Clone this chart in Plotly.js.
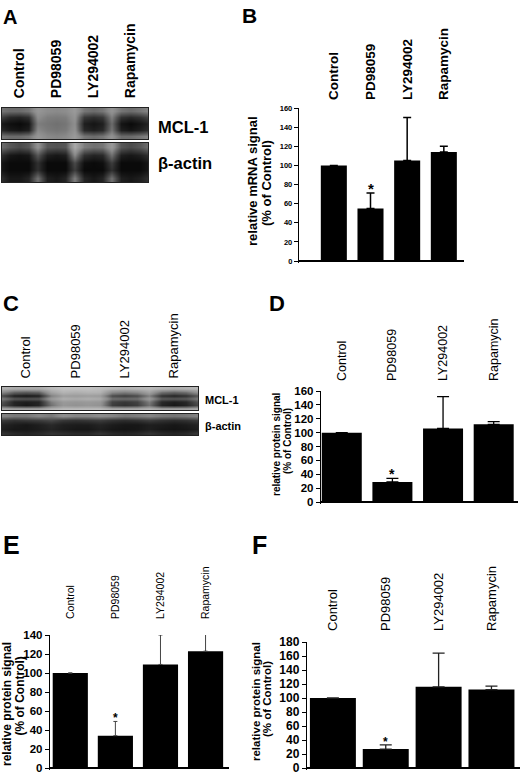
<!DOCTYPE html>
<html><head><meta charset="utf-8">
<script src="https://cdn.plot.ly/plotly-3.0.1.min.js"></script>
<style>html,body{margin:0;padding:0;background:#fff}#chart{width:520px;height:774px}</style>
</head><body><div id="chart"></div>
<script>
// ---------------- DATA ----------------
const treatments = ['Control', 'PD98059', 'LY294002', 'Rapamycin'];

// Panel B: relative MCL-1 mRNA signal (% of Control); bar heights and upper error-bar ends
const mrnaB = [100, 55, 105, 114];
const mrnaBTop = [100, 71, 150, 120];
// Panel D: relative protein signal
const proteinD = [100, 29, 106, 112];
const proteinDTop = [100, 34, 152, 116];
// Panel E: relative protein signal
const proteinE = [100, 34, 109, 123];
const proteinETop = [100, 49, 140, 145];
// Panel F: relative protein signal
const proteinF = [100, 27, 116, 112];
const proteinFTop = [100, 33, 164, 117];
// significance marks (*)
const significant = [false, true, false, false];

// Blot band darkness (0 = light background, 1 = black); rows bottom -> top,
// columns: gap, Control x3, gap, PD98059 x3, gap, LY294002 x3, gap, Rapamycin x3, gap
const blotA_MCL1 = [
  [0.58,0.62,0.62,0.58,0.42,0.50,0.52,0.50,0.40,0.58,0.62,0.58,0.45,0.62,0.62,0.58,0.52],
  [0.88,0.94,0.96,0.92,0.50,0.56,0.58,0.56,0.45,0.88,0.92,0.88,0.58,0.92,0.96,0.92,0.85],
  [0.94,0.98,1.00,0.96,0.55,0.58,0.60,0.58,0.48,0.92,0.96,0.92,0.62,0.96,1.00,0.96,0.90],
  [0.78,0.88,0.90,0.85,0.48,0.55,0.56,0.55,0.44,0.82,0.86,0.82,0.54,0.84,0.88,0.84,0.76],
  [0.58,0.62,0.62,0.58,0.42,0.48,0.50,0.48,0.40,0.58,0.62,0.58,0.44,0.58,0.62,0.58,0.52]
];
const blotA_actin = [
  [0.85,0.95,0.95,0.90,0.60,0.92,0.95,0.90,0.55,0.90,0.95,0.90,0.60,0.92,0.95,0.92,0.85],
  [0.95,1.00,1.00,1.00,0.85,1.00,1.00,1.00,0.80,1.00,1.00,1.00,0.85,1.00,1.00,1.00,0.95],
  [0.95,1.00,1.00,1.00,0.85,1.00,1.00,1.00,0.75,0.98,1.00,0.98,0.80,1.00,1.00,1.00,0.95],
  [0.85,0.95,0.97,0.95,0.70,0.92,0.95,0.92,0.50,0.85,0.90,0.88,0.60,0.92,0.95,0.92,0.85],
  [0.60,0.70,0.75,0.70,0.45,0.70,0.72,0.70,0.30,0.55,0.60,0.58,0.40,0.70,0.75,0.70,0.60]
];
const blotC_MCL1 = [
  [0.30,0.35,0.35,0.35,0.25,0.20,0.20,0.20,0.20,0.30,0.30,0.30,0.25,0.35,0.35,0.35,0.30],
  [0.75,0.90,0.95,0.90,0.60,0.42,0.45,0.42,0.45,0.80,0.85,0.80,0.60,0.90,0.95,0.90,0.75],
  [0.70,0.90,0.92,0.90,0.55,0.40,0.42,0.40,0.42,0.78,0.82,0.78,0.55,0.88,0.92,0.88,0.70],
  [0.55,0.70,0.72,0.70,0.40,0.27,0.30,0.27,0.30,0.60,0.62,0.60,0.40,0.68,0.70,0.68,0.55],
  [0.75,0.92,0.95,0.92,0.55,0.38,0.40,0.38,0.40,0.75,0.80,0.75,0.55,0.85,0.90,0.85,0.70],
  [0.50,0.65,0.68,0.65,0.35,0.24,0.27,0.24,0.25,0.50,0.55,0.50,0.35,0.60,0.65,0.60,0.45],
  [0.25,0.30,0.30,0.30,0.20,0.15,0.15,0.15,0.18,0.22,0.25,0.22,0.20,0.25,0.28,0.25,0.22]
];
const blotC_actin = [
  [0.84,0.88,0.90,0.88,0.84,0.86,0.88,0.88,0.84,0.88,0.90,0.88,0.84,0.88,0.90,0.88,0.82],
  [0.92,0.95,0.95,0.93,0.90,0.93,0.95,0.95,0.92,0.95,0.96,0.95,0.92,0.95,0.96,0.95,0.92],
  [0.90,0.93,0.95,0.92,0.88,0.92,0.93,0.93,0.90,0.93,0.95,0.95,0.92,0.93,0.95,0.93,0.90],
  [0.80,0.84,0.82,0.80,0.76,0.82,0.84,0.82,0.80,0.84,0.86,0.84,0.80,0.84,0.86,0.84,0.80],
  [0.52,0.57,0.57,0.52,0.57,0.47,0.52,0.52,0.49,0.52,0.57,0.55,0.52,0.57,0.59,0.57,0.52]
];
const laneCenters = [2, 6, 10, 14];   // column index of each lane centre in the blot grids

// ---------------- LAYOUT HELPERS ----------------
const W = 520, H = 774;
const FONT = 'Liberation Sans, Arial, Helvetica, sans-serif';
const dx = (a, b) => [a / W, b / W];
const dy = (top, bottom) => [1 - bottom / H, 1 - top / H];
const BLOT_SCALE = [[0, '#dadada'], [0.5, '#8a8a8a'], [1, '#0a0a0a']];
const bold = (s) => ({family: FONT, size: s, color: '#000', weight: 'bold'});
const reg = (s) => ({family: FONT, size: s, color: '#000'});

function heat(z, n) {
  return {type: 'heatmap', z: z, xaxis: 'x' + n, yaxis: 'y' + n, colorscale: BLOT_SCALE,
    zmin: 0, zmax: 1, zsmooth: 'best', showscale: false, hoverinfo: 'skip'};
}
function bars(vals, tops, n, width, err) {
  return {type: 'bar', x: treatments, y: vals, xaxis: 'x' + n, yaxis: 'y' + n, width: width,
    marker: {color: '#000', line: {width: 0}}, hoverinfo: 'skip', showlegend: false,
    error_y: {type: 'data', symmetric: false, array: tops.map((t, i) => t - vals[i]),
      arrayminus: vals.map(() => 0), color: err.color, thickness: err.thickness, width: err.width}};
}
function blotX(domain, range, anchor, labels, font, standoff) {
  const ax = {domain: domain, range: range, anchor: anchor, showgrid: false, zeroline: false, ticks: '',
    showline: true, mirror: true, linecolor: '#222', linewidth: 1, fixedrange: true};
  if (labels) {
    Object.assign(ax, {side: 'top', tickmode: 'array', tickvals: laneCenters, ticktext: treatments,
      tickangle: -90, tickfont: font, ticklabelstandoff: standoff});
  } else { ax.showticklabels = false; }
  return ax;
}
function blotY(domain, rows, anchor) {
  return {domain: domain, range: [-0.5, rows - 0.5], anchor: anchor, showgrid: false, zeroline: false, ticks: '',
    showticklabels: false, showline: true, mirror: true, linecolor: '#222', linewidth: 1, fixedrange: true};
}
function barX(domain, range, anchor, font, standoff) {
  return {domain: domain, range: range, anchor: anchor, type: 'category', side: 'top', showgrid: false,
    showline: false, zeroline: false, ticks: '', tickangle: -90, tickfont: font, ticklabelstandoff: standoff,
    fixedrange: true};
}
// value axis: top pixel, pixel of the zero line, max value; a 2px pad below zero keeps the
// zero line (used as the x-axis line) inside the plotting area
function barY(topPx, zeroPx, max, font, anchor) {
  const pad = 2;
  const lo = -pad * max / (zeroPx - topPx);
  return {domain: dy(topPx, zeroPx + pad), range: [lo, max], tick0: 0, dtick: 20, anchor: anchor,
    showgrid: false, showline: true, linecolor: '#000', linewidth: 1.2, ticks: 'outside', ticklen: 4,
    tickwidth: 1, tickcolor: '#000', tickfont: font, zeroline: true, zerolinecolor: '#000',
    zerolinewidth: 1.3, ticklabeloverflow: 'allow', fixedrange: true};
}
function ann(text, xpx, ypx, size, isBold, extra) {
  return Object.assign({text: text, xref: 'paper', yref: 'paper', x: xpx / W, y: 1 - ypx / H,
    xanchor: 'left', yanchor: 'middle', showarrow: false,
    font: {family: FONT, size: size, color: '#000', weight: isBold ? 'bold' : 'normal'}}, extra || {});
}
function vtitle(text, xpx, ypx, size) {
  return ann(text, xpx, ypx, size, true, {textangle: -90, xanchor: 'center', yanchor: 'middle'});
}
function stars(tops, n, size, shift) {
  return treatments.map((t, i) => significant[i] ? {text: '*', xref: 'x' + n, yref: 'y' + n, x: t, y: tops[i],
    yanchor: 'middle', yshift: shift, showarrow: false,
    font: {family: FONT, size: size, color: '#000', weight: 'bold'}} : null).filter(Boolean);
}

// ---------------- FIGURE ----------------
const data = [
  heat(blotA_MCL1, ''), heat(blotA_actin, 2),
  bars(mrnaB, mrnaBTop, 3, 0.71, {color: '#000', thickness: 1.5, width: 4}),
  heat(blotC_MCL1, 4), heat(blotC_actin, 5),
  bars(proteinD, proteinDTop, 6, 0.79, {color: '#000', thickness: 1.3, width: 6}),
  bars(proteinE, proteinETop, 7, 0.78, {color: '#444', thickness: 1, width: 2}),
  bars(proteinF, proteinFTop, 8, 0.87, {color: '#222', thickness: 1.3, width: 6})
];

const layout = {
  width: W, height: H, margin: {l: 0, r: 0, t: 0, b: 0}, paper_bgcolor: '#fff', plot_bgcolor: '#fff',
  showlegend: false, font: {family: FONT, color: '#000'},
  // A
  xaxis: blotX(dx(2, 148), [0.13, 15.91], 'y', true, bold(14), 6), yaxis: blotY(dy(108, 139), 5, 'x'),
  xaxis2: blotX(dx(2, 148), [0.13, 15.91], 'y2', false), yaxis2: blotY(dy(143, 182), 5, 'x2'),
  // B
  xaxis3: barX(dx(299, 464), [-0.95, 3.55], 'y3', bold(13.5), 7),
  yaxis3: barY(108, 261, 160, bold(7.5), 'x3'),
  // C
  xaxis4: blotX(dx(2, 198), [0.03, 15.97], 'y4', true, reg(13), 5), yaxis4: blotY(dy(387, 410), 7, 'x4'),
  xaxis5: blotX(dx(2, 198), [0.03, 15.97], 'y5', false), yaxis5: blotY(dy(414, 435), 5, 'x5'),
  // D
  xaxis6: barX(dx(321, 518), [-0.41, 3.48], 'y6', reg(12.5), 9),
  yaxis6: barY(391, 502, 160, bold(11.5), 'x6'),
  // E
  xaxis7: barX(dx(50, 229), [-0.45, 3.52], 'y7', reg(10.5), 15),
  yaxis7: barY(635, 768, 140, bold(11.5), 'x7'),
  // F
  xaxis8: barX(dx(307, 520), [-0.49, 3.54], 'y8', reg(13), 10),
  yaxis8: barY(642, 768, 180, bold(12), 'x8'),
  annotations: [
    ann('A', 1, 17, 20, true), ann('B', 240, 15.5, 21, true), ann('C', 1, 303, 22, true),
    ann('D', 267, 303, 22, true), ann('E', 1, 544.5, 25, true), ann('F', 250, 544.5, 25, true),
    ann('MCL-1', 156, 127, 16.5, true), ann('\u03B2-actin', 156, 163, 16.5, true),
    ann('MCL-1', 203, 400, 11, true), ann('\u03B2-actin', 203, 426, 11, true),
    vtitle('relative mRNA signal', 252, 181, 13), vtitle('(% of Control)', 267, 183, 13),
    vtitle('relative protein signal', 276, 444, 10), vtitle('(% of Control)', 287, 441, 10),
    vtitle('relative protein signal', 7, 704, 12), vtitle('(% of Control)', 19.5, 696, 12),
    vtitle('relative protein signal', 256, 702, 11.5), vtitle('(% of Control)', 267, 699, 11.5)
  ].concat(stars(mrnaBTop, 3, 15, 5), stars(proteinDTop, 6, 14, 4),
           stars(proteinETop, 7, 12, 3), stars(proteinFTop, 8, 12, 3))
};

Plotly.newPlot('chart', data, layout, {staticPlot: true, displayModeBar: false});
</script></body></html>
